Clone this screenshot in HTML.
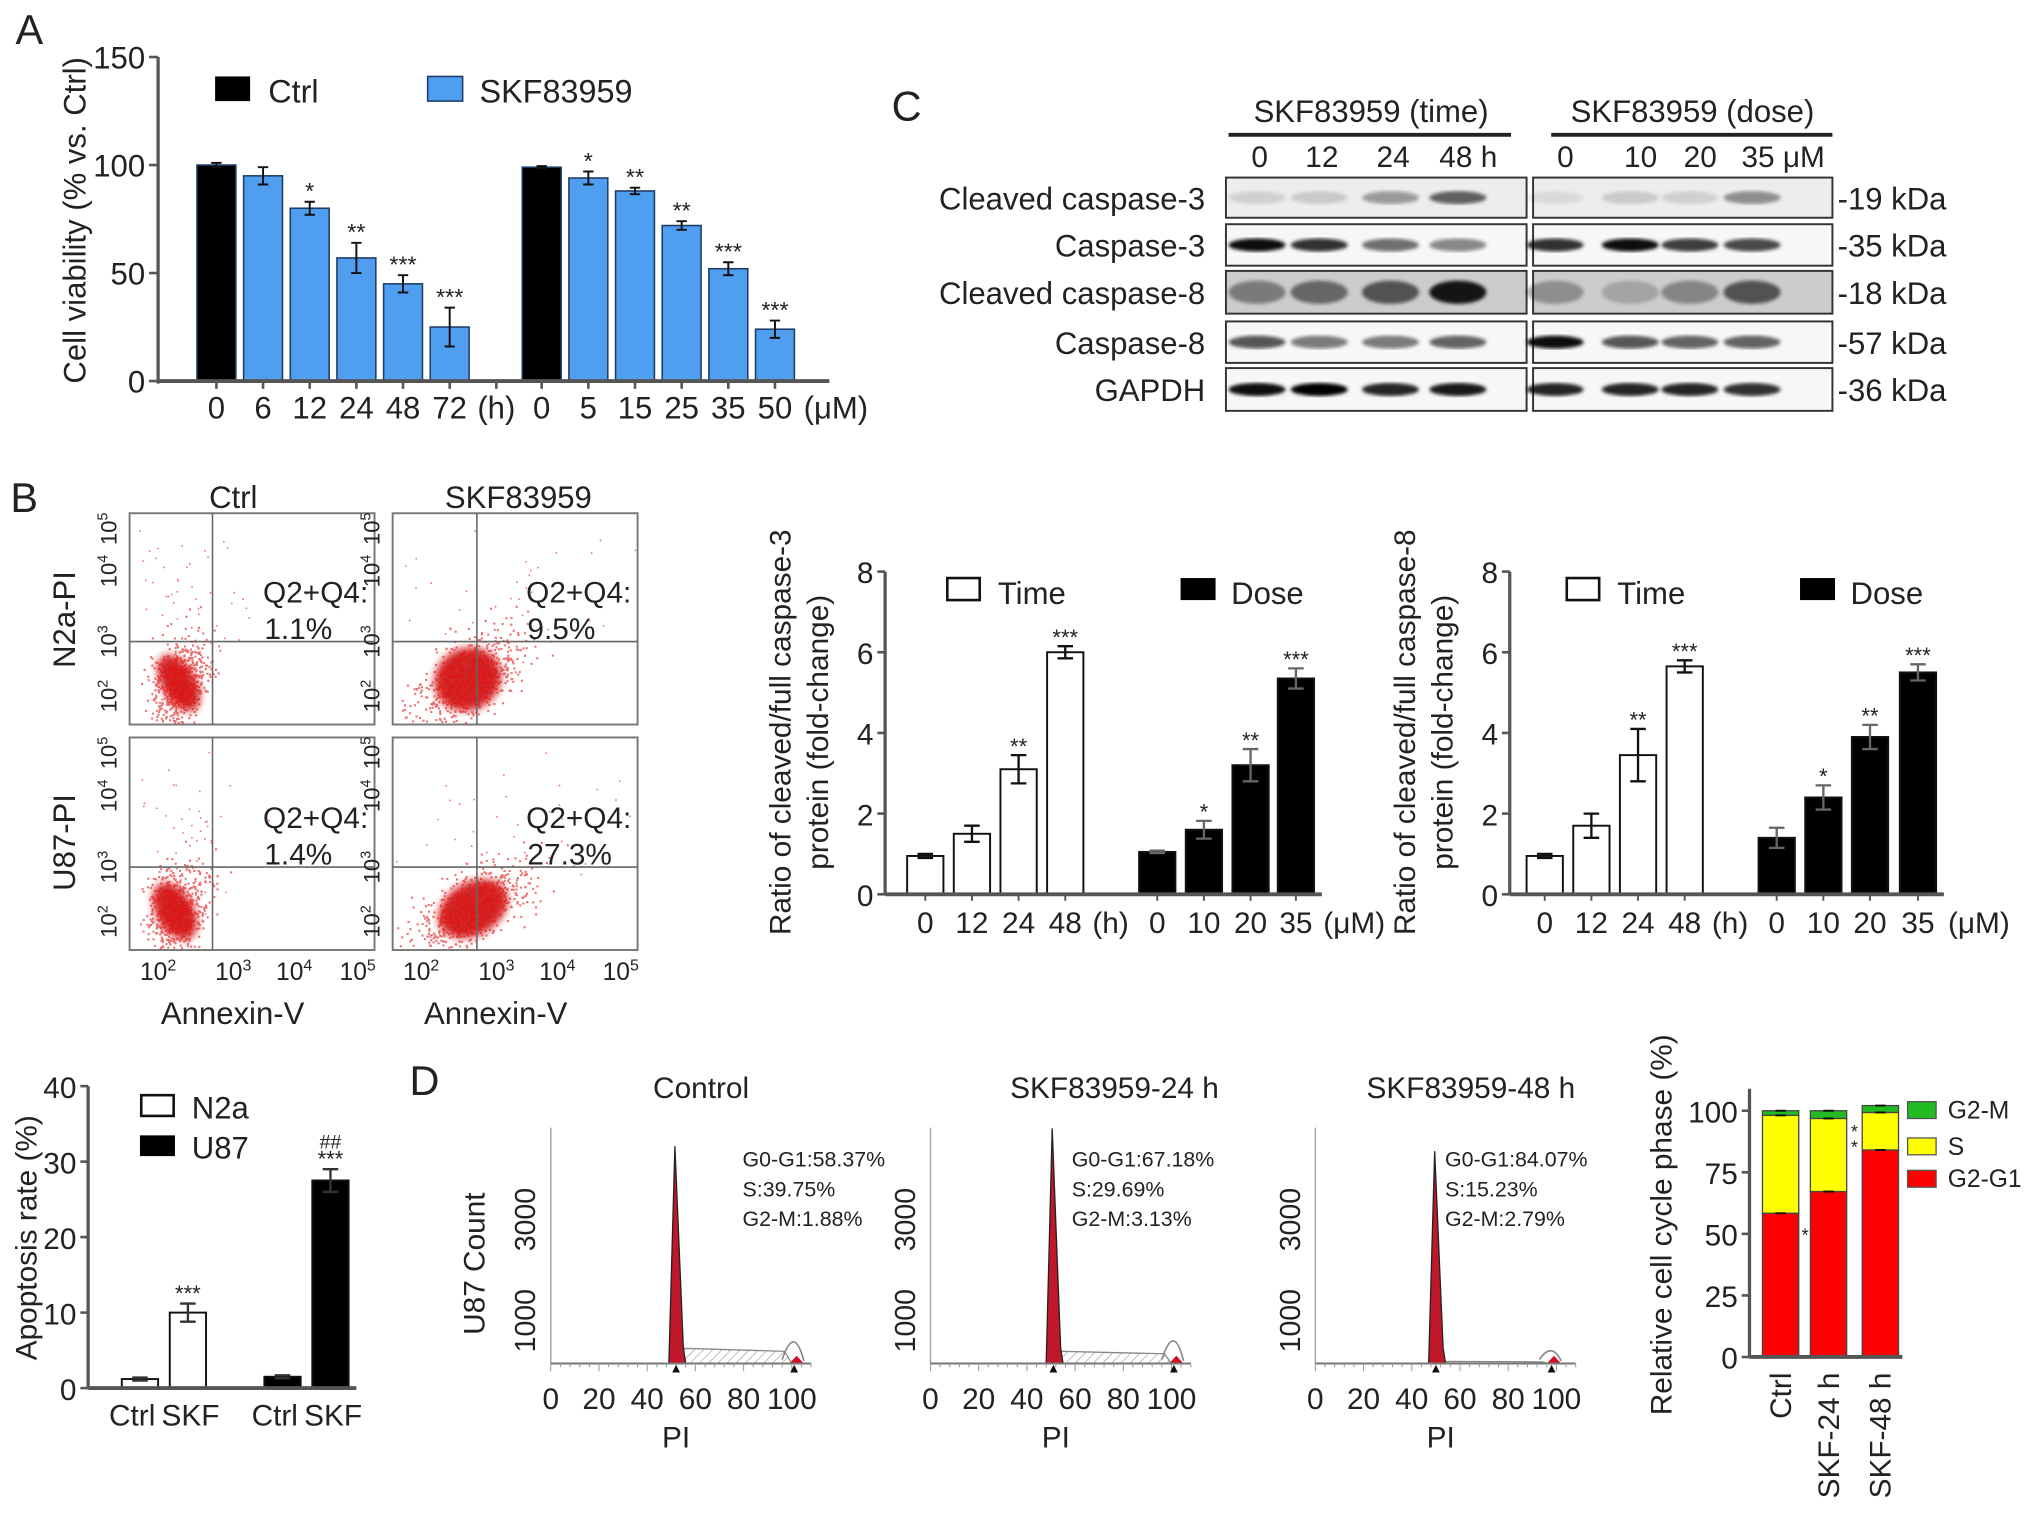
<!DOCTYPE html>
<html><head><meta charset="utf-8"><style>
html,body{margin:0;padding:0;background:#fff}
svg{display:block}
text{font-family:"Liberation Sans",Arial,sans-serif;fill:#222}
</style></head><body>
<svg id="fig" xmlns="http://www.w3.org/2000/svg" width="2032" height="1519" viewBox="0 0 1568 1172" preserveAspectRatio="none">
<defs>
<filter id="blur" x="-50%" y="-50%" width="200%" height="200%"><feGaussianBlur stdDeviation="3"/></filter>
<filter id="bg" x="-10%" y="-10%" width="120%" height="120%"><feGaussianBlur stdDeviation="1.5"/></filter>
<pattern id="hatch" width="5" height="5" patternUnits="userSpaceOnUse" patternTransform="rotate(45)"><line x1="0" y1="0" x2="0" y2="5" stroke="#99a" stroke-width="1"/></pattern>
</defs>
<text x="12" y="34" font-size="32">A</text>
<text x="688" y="93" font-size="32">C</text>
<text x="8" y="395" font-size="32">B</text>
<text x="316" y="845" font-size="32">D</text>
<g id="gA"></g>
<g id="gC"></g>
<g id="gB"></g>
<g id="gCas3"></g>
<g id="gCas8"></g>
<g id="gApo"></g>
<g id="gD"></g>
<g id="gS"></g>
</svg>
<script>
// ---- Panel A data ----
const aTimeLabels = ["0","6","12","24","48","72"];
const aTimeValues = [100,95,80,57,45,25];
const aTimeErr = [1,4,3,7,4,9];
const aTimeStars = ["","","*","**","***","***"];
const aDoseLabels = ["0","5","15","25","35","50"];
const aDoseValues = [99,94,88,72,52,24];
const aDoseErr = [0.5,3,1.5,2,3,4];
const aDoseStars = ["","*","**","**","***","***"];
const aTicks = [0,50,100,150];
// ---- caspase charts ----
const casTimeLabels = ["0","12","24","48"];
const casDoseLabels = ["0","10","20","35"];
const cas3Time = [0.95,1.5,3.1,6.0];
const cas3TimeErr = [0.05,0.2,0.35,0.15];
const cas3Dose = [1.05,1.6,3.2,5.35];
const cas3DoseErr = [0.03,0.22,0.4,0.25];
const cas8Time = [0.95,1.7,3.45,5.65];
const cas8TimeErr = [0.05,0.3,0.65,0.15];
const cas8Dose = [1.4,2.4,3.9,5.5];
const cas8DoseErr = [0.25,0.3,0.3,0.2];
const casTimeStars = ["","","**","***"];
const cas3DoseStars = ["","*","**","***"];
const cas8DoseStars = ["","*","**","***"];
const casTicks = [0,2,4,6,8];
// ---- apoptosis ----
const apoCats = ["Ctrl","SKF","Ctrl","SKF"];
const apoValues = [1.2,10,1.5,27.5];
const apoErr = [0.2,1.2,0.2,1.5];
const apoTicks = [0,10,20,30,40];
// ---- cell cycle ----
const ccCats = ["Ctrl","SKF-24 h","SKF-48 h"];
const ccG1 = [58.37,67.18,84.07];
const ccS = [39.75,29.69,15.23];
const ccG2 = [1.88,3.13,2.79];
const ccTicks = [0,25,50,75,100];
const histTitles = ["Control","SKF83959-24 h","SKF83959-48 h"];
const histG1Peak = [4300,4650,4200];
const histG1Pos = [52,51,50];
const histG2Peak = [480,520,130];
const histG2Pos = [101,101,98];
const histXTicks = [0,20,40,60,80,100];
// ---- blots ----
const blotRows = ["Cleaved caspase-3","Caspase-3","Cleaved caspase-8","Caspase-8","GAPDH"];
const blotKda = ["-19 kDa","-35 kDa","-18 kDa","-57 kDa","-36 kDa"];
const blotIntensity = [
 [0.12,0.15,0.35,0.6, 0.08,0.15,0.12,0.4],
 [0.95,0.8,0.55,0.45, 0.8,0.95,0.75,0.7],
 [0.4,0.5,0.6,0.9, 0.3,0.2,0.35,0.6],
 [0.65,0.5,0.5,0.6, 0.95,0.65,0.6,0.6],
 [0.95,1.0,0.85,0.9, 0.85,0.85,0.85,0.8]];
const blotBg = [0.07,0.03,0.2,0.03,0.03];
const flowPct = ["1.1%","9.5%","1.4%","27.3%"];

const NS="http://www.w3.org/2000/svg";
function mk(tag, attrs, parent){const e=document.createElementNS(NS,tag);for(const k in attrs)e.setAttribute(k,attrs[k]);parent.appendChild(e);return e;}
function tx(str, attrs, parent){const e=mk('text',attrs,parent);e.textContent=str;return e;}
function pow10(p, attrs, parent){const e=mk('text',attrs,parent);e.appendChild(document.createTextNode('10'));const s=mk('tspan',{'font-size':'0.65em',dy:-7},e);s.textContent=p;return e;}

// ===== Panel A =====
(function(){
 const g=document.getElementById('gA');
 const X0=122, Y0=294, Ytop=44;
 const y=v=>Y0-v*(Y0-Ytop)/150;
 const tc=[167,203,239,275,311,347], dc=[418,454,490,526,562,598];
 let e=mk('line',{x1:X0,y1:Ytop,x2:X0,y2:Y0+2,stroke:'#555','stroke-width':2.5},g);
 
 
 aTicks.forEach(t=>{
  mk('line',{x1:X0-7,y1:y(t),x2:X0,y2:y(t),stroke:'#555','stroke-width':2},g);
  e=tx(String(t),{x:X0-10,y:y(t)+9,'font-size':24,'text-anchor':'end'},g);
  
  
 });
 e=tx('Cell viability (% vs. Ctrl)',{x:0,y:0,'font-size':24,'text-anchor':'middle',transform:'translate(66,170) rotate(-90)'},g);
 
 
 function group(cs,vals,errs,stars,labels){
  cs.forEach((c,i)=>{
   const v=vals[i];
   e=mk('rect',{x:c-15,y:y(v),width:30,height:Y0-y(v),fill:i==0?'#000':'#4f9ef0',stroke:'#1d3d66','stroke-width':1.2},g);
   
   
   const t=y(v+errs[i]),b=y(v-errs[i]);
   mk('path',{d:`M${c} ${t}V${b}M${c-4} ${t}H${c+4}M${c-4} ${b}H${c+4}`,stroke:'#111','stroke-width':1.5,fill:'none'},g);
   if(stars[i]){e=tx(stars[i],{x:c,y:t-2,'font-size':18,'text-anchor':'middle'},g);
    
    }
   mk('line',{x1:c,y1:Y0,x2:c,y2:Y0+6,stroke:'#555','stroke-width':2},g);
   e=tx(labels[i],{x:c,y:Y0+29,'font-size':24,'text-anchor':'middle'},g);
   
   
  });
 }
 group(tc,aTimeValues,aTimeErr,aTimeStars,aTimeLabels);
 group(dc,aDoseValues,aDoseErr,aDoseStars,aDoseLabels);
 mk('line',{x1:383,y1:Y0,x2:383,y2:Y0+6,stroke:'#555','stroke-width':2},g);
 e=mk('line',{x1:X0,y1:Y0,x2:640,y2:Y0,stroke:'#555','stroke-width':3},g);
 
 
 tx('(h)',{x:383,y:Y0+29,'font-size':24,'text-anchor':'middle'},g);
 tx('(\u03bcM)',{x:645,y:Y0+29,'font-size':24,'text-anchor':'middle'},g);
 e=mk('rect',{x:166,y:59,width:27,height:19,fill:'#000'},g);
 
 
 e=tx('Ctrl',{x:207,y:79,'font-size':25},g);
 
 
 e=mk('rect',{x:330,y:59,width:27,height:19,fill:'#4f9ef0',stroke:'#1d3d66','stroke-width':1.2},g);
 
 
 e=tx('SKF83959',{x:370,y:79,'font-size':25},g);
 
 
})();

// ===== Panel C blots =====
(function(){
 const g=document.getElementById('gC');
 let e=tx('SKF83959 (time)',{x:1058,y:94,'font-size':24,'text-anchor':'middle'},g);
 
 
 e=tx('SKF83959 (dose)',{x:1306,y:94,'font-size':24,'text-anchor':'middle'},g);
 
 
 mk('line',{x1:948,y1:104,x2:1166,y2:104,stroke:'#222','stroke-width':3},g);
 mk('line',{x1:1197,y1:104,x2:1414,y2:104,stroke:'#222','stroke-width':3},g);
 const lanes=[972,1020,1075,1127,1208,1266,1312,1360];
 const lab=['0','12','24','48 h','0','10','20','35 \u03bcM'];
 lab.forEach((l,i)=>{e=tx(l,{x:lanes[i]+(i==3?6:i==7?16:0),y:129,'font-size':23,'text-anchor':'middle'},g);
  
  });
 const rowsY=[[137,168],[173,205],[209,242],[248,280],[284,317]];
 blotRows.forEach((r,ri)=>{
  const [t,b]=rowsY[ri];
  [[946,1178],[1183,1414]].forEach(([l,rr],bi)=>{
   const bgc=Math.round(255*(1-blotBg[ri]));
   e=mk('rect',{x:l,y:t,width:rr-l,height:b-t,fill:`rgb(${bgc},${bgc},${bgc})`,stroke:'#333','stroke-width':1.5},g);
   
   
   for(let k=0;k<4;k++){
    const I=blotIntensity[ri][bi*4+k];
    const cx=lanes[bi*4+k]+(bi==0?-2:-8);
    e=mk('ellipse',{cx:cx,cy:(t+b)/2,rx:22,ry:ri==2?9:5,fill:'#000','fill-opacity':I,filter:'url(#bg)'},g);
    
    
   }
  });
  e=tx(r,{x:930,y:(t+b)/2+9,'font-size':24,'text-anchor':'end'},g);
  
  
  e=tx(blotKda[ri],{x:1418,y:(t+b)/2+9,'font-size':24},g);
  
  
 });
})();

// ===== Panel B flow plots =====
(function(){
 const g=document.getElementById('gB');
 let seed=12345;function rnd(){seed=(seed*16807)%2147483647;return seed/2147483647;}
 function gauss(){return Math.sqrt(-2*Math.log(rnd()+1e-9))*Math.cos(2*Math.PI*rnd());}
 const boxes=[[100,396,289,559],[303,396,492,559],[100,569,289,733],[303,569,492,733]];
 const vlines=[164,368,164,368], hlines=[495,495,669,669];
 const clouds=[[38,-32,11,20],[58,-35,22,20],[35,-30,12,20],[62,-32,24,17]];
 let e=tx('Ctrl',{x:180,y:392,'font-size':24,'text-anchor':'middle'},g);
 
 
 e=tx('SKF83959',{x:400,y:392,'font-size':24,'text-anchor':'middle'},g);
 
 
 boxes.forEach((bx,i)=>{
  const [l,t,r,b]=bx;
  e=mk('rect',{x:l,y:t,width:r-l,height:b-t,fill:'#fff',stroke:'#777','stroke-width':1.5},g);
  
  
  const [dx,dy,sx,sy]=clouds[i];
  e=mk('ellipse',{cx:l+dx,cy:b+dy,rx:sx*1.2,ry:sy*1.2,fill:'#c00',opacity:0.85,filter:'url(#blur)',transform:`rotate(-30 ${l+dx} ${b+dy})`},g);
  
  
  let d='';
  for(let k=0;k<600;k++){
   const gx=gauss(),gy=gauss();
   const px=l+dx+gx*sx, py=b+dy+gy*sy*0.8 - gx*sx*0.5;
   if(px>l+2&&px<r-2&&py>t+2&&py<b-2) d+=`M${px.toFixed(1)} ${py.toFixed(1)}h1.6v1.6h-1.6z`;
  }
  for(let k=0;k<40;k++){const px=l+dx+gauss()*sx*2.5+10,py=b-100+gauss()*25;
   if(px>l+2&&px<r-2&&py>t+2&&py<b-2) d+=`M${px.toFixed(1)} ${py.toFixed(1)}h1.2v1.2h-1.2z`;}
  mk('path',{d:d,fill:'#e01010',opacity:0.6},g);
  mk('line',{x1:vlines[i],y1:t,x2:vlines[i],y2:b,stroke:'#666','stroke-width':1.2},g);
  mk('line',{x1:l,y1:hlines[i],x2:r,y2:hlines[i],stroke:'#666','stroke-width':1.2},g);
  e=tx('Q2+Q4:',{x:l+103,y:hlines[i]-30,'font-size':23},g);
  
  
  e=tx(flowPct[i],{x:l+104,y:hlines[i]-2,'font-size':23},g);
  
  
  ['2','3','4','5'].forEach((p,j)=>{
   const yy=[b-22,hlines[i],t+(hlines[i]-t)*0.45,t+12][j];
   e=pow10(p,{x:0,y:0,'font-size':17,'text-anchor':'middle',transform:`translate(${l-10},${yy}) rotate(-90)`},g);
   
   
  });
 });
 [[100,289],[303,492]].forEach(([l,r],i)=>{
  const xs=[l+22,l+80,l+127,l+176];
  ['2','3','4','5'].forEach((p,j)=>{
   e=pow10(p,{x:xs[j],y:756,'font-size':19,'text-anchor':'middle'},g);
   
   
  });
  e=tx('Annexin-V',{x:(l+r)/2-15,y:790,'font-size':24,'text-anchor':'middle'},g);
  
  
 });
 e=tx('N2a-PI',{x:0,y:0,'font-size':24,'text-anchor':'middle',transform:'translate(58,478) rotate(-90)'},g);
 
 
 e=tx('U87-PI',{x:0,y:0,'font-size':24,'text-anchor':'middle',transform:'translate(58,650) rotate(-90)'},g);
 
 
})();

// ===== caspase charts =====
function casChart(id,X0,tc,dc,xEnd,tv,te,dv,de,ts,ds,title1,legX,lblXs){
 const g=document.getElementById(id);
 const Y0=690,Yt=441;const y=v=>Y0-v*(Y0-Yt)/8;
 let e=mk('line',{x1:X0,y1:Yt,x2:X0,y2:Y0,stroke:'#555','stroke-width':2.5},g);
 
 
 casTicks.forEach(t=>{mk('line',{x1:X0-6,y1:y(t),x2:X0,y2:y(t),stroke:'#555','stroke-width':2},g);
  e=tx(String(t),{x:X0-9,y:y(t)+9,'font-size':23,'text-anchor':'end'},g);
  
  });
 function grp(cs,vals,errs,stars,fill,labels){
  cs.forEach((c,i)=>{const v=vals[i];
   e=mk('rect',{x:c-14,y:y(v),width:28,height:Y0-y(v),fill:fill,stroke:'#111','stroke-width':1.5},g);
   
   
   const t=y(v+errs[i]),b=y(v-errs[i]);
   mk('path',{d:`M${c} ${t}V${b}M${c-6} ${t}H${c+6}M${c-6} ${b}H${c+6}`,stroke:fill=='#000'?'#666':'#111','stroke-width':1.8,fill:'none'},g);
   if(stars[i]){e=tx(stars[i],{x:c,y:t-1,'font-size':17,'text-anchor':'middle'},g);
    
    }
   mk('line',{x1:c,y1:Y0,x2:c,y2:Y0+5,stroke:'#555','stroke-width':1.5},g);
   e=tx(labels[i],{x:c,y:Y0+30,'font-size':23,'text-anchor':'middle'},g);
   
   
  });
 }
 grp(tc,tv,te,ts,'#fff',casTimeLabels);
 grp(dc,dv,de,ds,'#000',casDoseLabels);
 e=mk('line',{x1:X0,y1:Y0,x2:xEnd,y2:Y0,stroke:'#555','stroke-width':3},g);
 
 
 tx('(h)',{x:lblXs[0],y:Y0+30,'font-size':23,'text-anchor':'middle'},g);
 tx('(\u03bcM)',{x:lblXs[1],y:Y0+30,'font-size':23,'text-anchor':'middle'},g);
 e=mk('rect',{x:legX,y:446,width:25,height:17,fill:'#fff',stroke:'#111','stroke-width':2},g);
 
 
 e=tx('Time',{x:legX+39,y:466,'font-size':24},g);
 
 
 e=mk('rect',{x:legX+180,y:446,width:27,height:17,fill:'#000'},g);
 
 
 e=tx('Dose',{x:legX+219,y:466,'font-size':24},g);
 
 
 e=tx(title1,{x:0,y:0,'font-size':23,'text-anchor':'middle',transform:`translate(${X0-73},565) rotate(-90)`},g);
 
 
 e=tx('protein (fold-change)',{x:0,y:0,'font-size':23,'text-anchor':'middle',transform:`translate(${X0-44},565) rotate(-90)`},g);
 
 
}
casChart('gCas3',683,[714,750,786,822],[893,929,965,1000],1020,cas3Time,cas3TimeErr,cas3Dose,cas3DoseErr,casTimeStars,cas3DoseStars,'Ratio of cleaved/full caspase-3',731,[857,1045]);
casChart('gCas8',1165,[1192,1228,1264,1300],[1371,1407,1443,1480],1500,cas8Time,cas8TimeErr,cas8Dose,cas8DoseErr,casTimeStars,cas8DoseStars,'Ratio of cleaved/full caspase-8',1209,[1335,1527]);

// ===== apoptosis chart =====
(function(){
 const g=document.getElementById('gApo');
 const X0=68,Y0=1071,Yt=838;const y=v=>Y0-v*(Y0-Yt)/40;
 const cs=[108,145,218,255];
 let e=mk('line',{x1:X0,y1:Yt,x2:X0,y2:Y0,stroke:'#555','stroke-width':2.5},g);
 
 
 apoTicks.forEach(t=>{mk('line',{x1:X0-6,y1:y(t),x2:X0,y2:y(t),stroke:'#555','stroke-width':2},g);
  e=tx(String(t),{x:X0-9,y:y(t)+9,'font-size':23,'text-anchor':'end'},g);
  
  });
 cs.forEach((c,i)=>{const v=apoValues[i];const f=i<2?'#fff':'#000';
  e=mk('rect',{x:c-14,y:y(v),width:28,height:Y0-y(v),fill:f,stroke:'#111','stroke-width':1.5},g);
  
  
  const t=y(v+apoErr[i]),b=y(v-apoErr[i]);
  mk('path',{d:`M${c} ${t}V${b}M${c-6} ${t}H${c+6}M${c-6} ${b}H${c+6}`,stroke:'#333','stroke-width':1.8,fill:'none'},g);
  e=tx(apoCats[i],{x:c+(i%2?2:-6),y:Y0+29,'font-size':23,'text-anchor':'middle'},g);
  
  
 });
 e=mk('line',{x1:X0,y1:Y0,x2:275,y2:Y0,stroke:'#555','stroke-width':3},g);
 
 
 tx('***',{x:145,y:y(apoValues[1]+apoErr[1])-2,'font-size':17,'text-anchor':'middle'},g);
 tx('***',{x:255,y:y(apoValues[3]+apoErr[3])-2,'font-size':17,'text-anchor':'middle'},g);
 tx('##',{x:255,y:y(apoValues[3]+apoErr[3])-16,'font-size':15,'text-anchor':'middle'},g);
 e=mk('rect',{x:109,y:845,width:25,height:16,fill:'#fff',stroke:'#111','stroke-width':2},g);
 
 
 e=tx('N2a',{x:148,y:863,'font-size':24},g);
 
 
 e=mk('rect',{x:108,y:876,width:27,height:16,fill:'#000'},g);
 
 
 e=tx('U87',{x:148,y:894,'font-size':24},g);
 
 
 e=tx('Apoptosis rate (%)',{x:0,y:0,'font-size':23,'text-anchor':'middle',transform:'translate(28,955) rotate(-90)'},g);
 
 
})();

// ===== histograms =====
(function(){
 const g=document.getElementById('gD');
 const X0s=[425,718,1015], titleX=[541,860,1135], textX=[573,827,1115];
 const Y0=1052; const yc=c=>Y0-c*0.039;
 const texts=[["G0-G1:58.37%","S:39.75%","G2-M:1.88%"],["G0-G1:67.18%","S:29.69%","G2-M:3.13%"],["G0-G1:84.07%","S:15.23%","G2-M:2.79%"]];
 let e;
 X0s.forEach((X0,i)=>{
  const xs=v=>X0+v*1.86;
  e=tx(histTitles[i],{x:titleX[i],y:847,'font-size':23,'text-anchor':'middle'},g);
  
  
  e=mk('line',{x1:X0,y1:870,x2:X0,y2:Y0,stroke:'#aaa','stroke-width':1.2},g);
  
  
  [1000,3000].forEach(t=>{e=tx(String(t),{x:0,y:0,'font-size':22,'text-anchor':'middle',transform:`translate(${X0-12},${yc(t)+6}) rotate(-90)`},g);
   
   });
  const p=histG1Pos[i], q=histG2Pos[i];
  const sH=[300,240,40][i];
  e=mk('path',{d:`M${xs(p+2)} ${Y0}L${xs(p+3)} ${yc(sH)}L${xs(q-4)} ${yc(sH*0.8)}L${xs(q-1)} ${Y0}Z`,fill:'url(#hatch)',stroke:'#888','stroke-width':1},g);
  
  
  mk('path',{d:`M${xs(q-5)} ${Y0-3}Q${xs(q)} ${yc(histG2Peak[i])-12} ${xs(q+4)} ${Y0-2}`,fill:'none',stroke:'#888','stroke-width':1.3},g);
  e=mk('path',{d:`M${xs(p-3)} ${Y0}L${xs(p-0.5)} ${yc(histG1Peak[i])}L${xs(p+3)} ${Y0-12}L${xs(p+4)} ${Y0}Z`,fill:'#c0182a',stroke:'#222','stroke-width':1},g);
  
  
  e=mk('path',{d:`M${xs(q-2)} ${Y0}L${xs(q+1)} ${Y0-6}L${xs(q+4)} ${Y0}Z`,fill:'#d01020'},g);
  
  
  e=mk('line',{x1:X0,y1:Y0,x2:xs(108),y2:Y0,stroke:'#777','stroke-width':1.5},g);
  
  
  for(let k=0;k<=108;k+=4) mk('line',{x1:xs(k),y1:Y0,x2:xs(k),y2:Y0+(k%20==0?6:3),stroke:'#999','stroke-width':0.8},g);
  mk('path',{d:`M${xs(p)} ${Y0+1}l-3 6h6z M${xs(q)} ${Y0+1}l-3 6h6z`,fill:'#111'},g);
  histXTicks.forEach(t=>{e=tx(String(t),{x:xs(t),y:1087,'font-size':23,'text-anchor':'middle'},g);
   
   });
  e=tx('PI',{x:xs(52),y:1117,'font-size':23,'text-anchor':'middle'},g);
  
  
  texts[i].forEach((s,j)=>{e=tx(s,{x:textX[i],y:900+j*23,'font-size':16.5},g);
   
   });
 });
 e=tx('U87 Count',{x:0,y:0,'font-size':23,'text-anchor':'middle',transform:'translate(374,975) rotate(-90)'},g);
 
 
})();

// ===== stacked cell-cycle =====
(function(){
 const g=document.getElementById('gS');
 const X0=1350,Y0=1047;const y=v=>Y0-v*1.9;
 const cs=[1374,1411,1451];
 let e=mk('line',{x1:X0,y1:840,x2:X0,y2:Y0,stroke:'#555','stroke-width':2.5},g);
 
 
 ccTicks.forEach(t=>{mk('line',{x1:X0-6,y1:y(t),x2:X0,y2:y(t),stroke:'#555','stroke-width':2},g);
  e=tx(String(t),{x:X0-9,y:y(t)+9,'font-size':23,'text-anchor':'end'},g);
  
  });
 cs.forEach((c,i)=>{
  const a=ccG1[i],b=a+ccS[i],d=b+ccG2[i];
  e=mk('rect',{x:c-14,y:y(a),width:28,height:Y0-y(a),fill:'#ff0000',stroke:'#444','stroke-width':1},g);
  
  
  e=mk('rect',{x:c-14,y:y(b),width:28,height:y(a)-y(b),fill:'#ffff00',stroke:'#444','stroke-width':1},g);
  
  
  e=mk('rect',{x:c-14,y:y(d),width:28,height:y(b)-y(d),fill:'#22bb22',stroke:'#444','stroke-width':1},g);
  
  
  [a,b,d].forEach(v=>mk('line',{x1:c-4,y1:y(v),x2:c+4,y2:y(v),stroke:'#111','stroke-width':1.5},g));
  e=tx(ccCats[i],{x:0,y:0,'font-size':23,'text-anchor':'end',transform:`translate(${c+8},${Y0+12}) rotate(-90)`},g);
  
  
 });
 e=mk('line',{x1:X0,y1:Y0,x2:1468,y2:Y0,stroke:'#555','stroke-width':3},g);
 
 
 tx('*',{x:1393,y:958,'font-size':14,'text-anchor':'middle'},g);
 tx('*',{x:1431,y:878,'font-size':14,'text-anchor':'middle'},g);
 tx('*',{x:1431,y:890,'font-size':14,'text-anchor':'middle'},g);
 const leg=[['#22bb22','G2-M',850],['#ffff00','S',878],['#ff0000','G2-G1',903]];
 leg.forEach(([c,l,yy])=>{
  e=mk('rect',{x:1472,y:yy,width:22,height:13,fill:c,stroke:'#555','stroke-width':1},g);
  
  
  e=tx(l,{x:1503,y:yy+13,'font-size':19},g);
  
  
 });
 e=tx('Relative cell cycle phase (%)',{x:0,y:0,'font-size':23,'text-anchor':'middle',transform:'translate(1290,945) rotate(-90)'},g);
 
 
})();
</script>
</body></html>
